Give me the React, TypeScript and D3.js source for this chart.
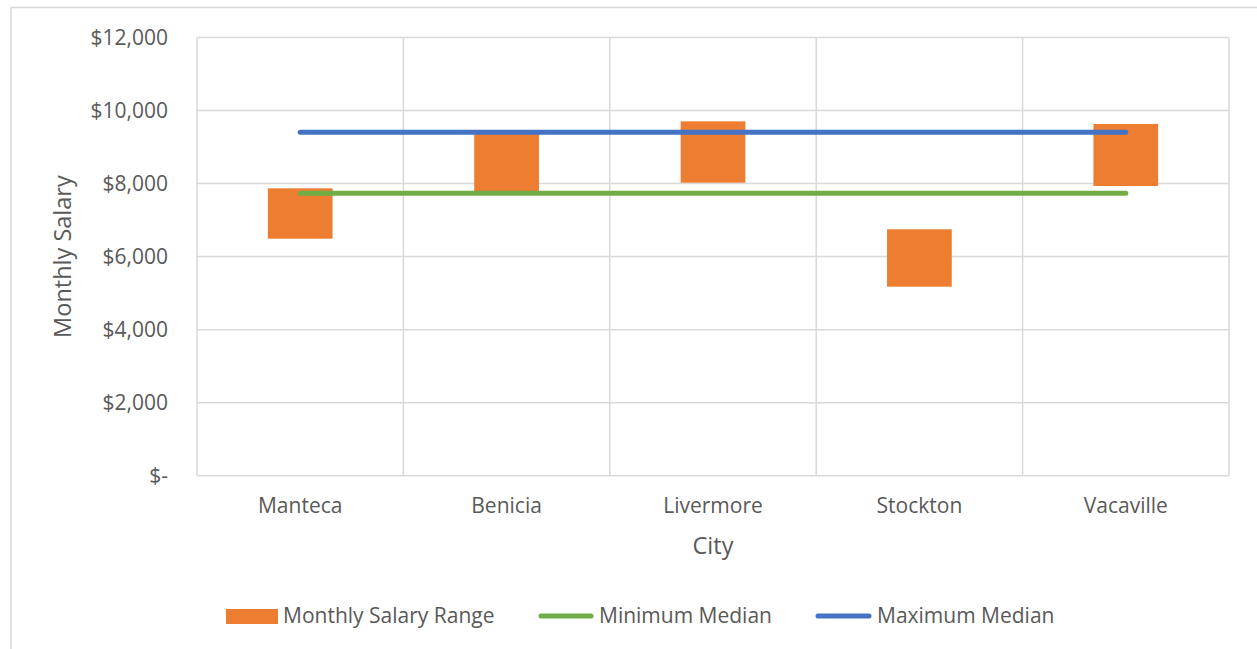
import React from "react";
import * as d3 from "d3";

const categories = ["Manteca", "Benicia", "Livermore", "Stockton", "Vacaville"];
const rangeLow = [6490, 7760, 8024, 5176, 7933];
const rangeHigh = [7870, 9400, 9704, 6748, 9631];
const minMedian = [7735, 7735, 7735, 7735, 7735];
const maxMedian = [9404, 9404, 9404, 9404, 9404];
const yTicks = [0, 2000, 4000, 6000, 8000, 10000, 12000];
const legendLabels = ["Monthly Salary Range", "Minimum Median", "Maximum Median"];

const W = 1257;
const H = 649;
const FONT = "'Open Sans', 'Noto Sans', sans-serif";
const TEXT = "#595959";
const GRID = "#d9d9d9";
const ORANGE = "#ED7D31";
const GREEN = "#70AD47";
const BLUE = "#4472C4";

export default function App() {
  const left = 197, right = 1229, top = 37.5, bottom = 475.7;
  const x = d3.scaleBand<string>().domain(categories).range([left, right]).paddingInner(0.6865).paddingOuter(0.6865 / 2);
  const y = d3.scaleLinear().domain([0, 12000]).range([bottom, top]);
  const step = x.step();
  const cx = (c: string) => (x(c) as number) + x.bandwidth() / 2;
  const fmt = (v: number) => (v === 0 ? "$-" : "$" + d3.format(",")(v));
  const line = d3.line<number>().x((_, i) => cx(categories[i])).y((d) => y(d));
  const bounds = d3.range(categories.length + 1).map((i) => left + i * step);

  return (
    <div style={{ position: "absolute", left: 0, top: 0, width: W, height: H, background: "#fff" }}>
      <svg width={W} height={H} style={{ display: "block", fontFamily: FONT }}>
        <rect x={0} y={0} width={W} height={H} fill="#fff" />
        <rect x={11} y={7.5} width={W + 10} height={H + 10} fill="none" stroke={GRID} strokeWidth={1.5} />
        {yTicks.map((t) => (
          <line key={"h" + t} x1={left} x2={right} y1={y(t)} y2={y(t)} stroke={GRID} strokeWidth={1.5} />
        ))}
        {bounds.map((b, i) => (
          <line key={"v" + i} x1={b} x2={b} y1={top} y2={bottom} stroke={GRID} strokeWidth={1.5} />
        ))}
        {yTicks.map((t) => (
          <text key={"t" + t} x={168} y={y(t)} dy="0.35em" textAnchor="end" fontSize={21} fill={TEXT}>
            {fmt(t)}
          </text>
        ))}
        {categories.map((c, i) => (
          <rect key={"b" + c} x={x(c)} width={x.bandwidth()} y={y(rangeHigh[i])} height={y(rangeLow[i]) - y(rangeHigh[i])} fill={ORANGE} />
        ))}
        <path d={line(minMedian) || ""} fill="none" stroke={GREEN} strokeWidth={5} strokeLinecap="round" />
        <path d={line(maxMedian) || ""} fill="none" stroke={BLUE} strokeWidth={5} strokeLinecap="round" />
        {categories.map((c) => (
          <text key={"c" + c} x={cx(c)} y={506} dy="0.35em" textAnchor="middle" fontSize={21} fill={TEXT}>
            {c}
          </text>
        ))}
        <text x={(left + right) / 2} y={546} dy="0.35em" textAnchor="middle" fontSize={23.5} fill={TEXT}>
          City
        </text>
        <text transform={`translate(63,${(top + bottom) / 2}) rotate(-90)`} dy="0.35em" textAnchor="middle" fontSize={23.5} fill={TEXT}>
          Monthly Salary
        </text>
        <g>
          <rect x={226} y={609} width={52} height={15} fill={ORANGE} />
          <text x={283} y={616} dy="0.35em" fontSize={21} fill={TEXT}>{legendLabels[0]}</text>
          <line x1={541} x2={591} y1={616} y2={616} stroke={GREEN} strokeWidth={5} strokeLinecap="round" />
          <text x={599} y={616} dy="0.35em" fontSize={21} fill={TEXT}>{legendLabels[1]}</text>
          <line x1={818} x2={869} y1={616} y2={616} stroke={BLUE} strokeWidth={5} strokeLinecap="round" />
          <text x={877} y={616} dy="0.35em" fontSize={21} fill={TEXT}>{legendLabels[2]}</text>
        </g>
      </svg>
    </div>
  );
}
